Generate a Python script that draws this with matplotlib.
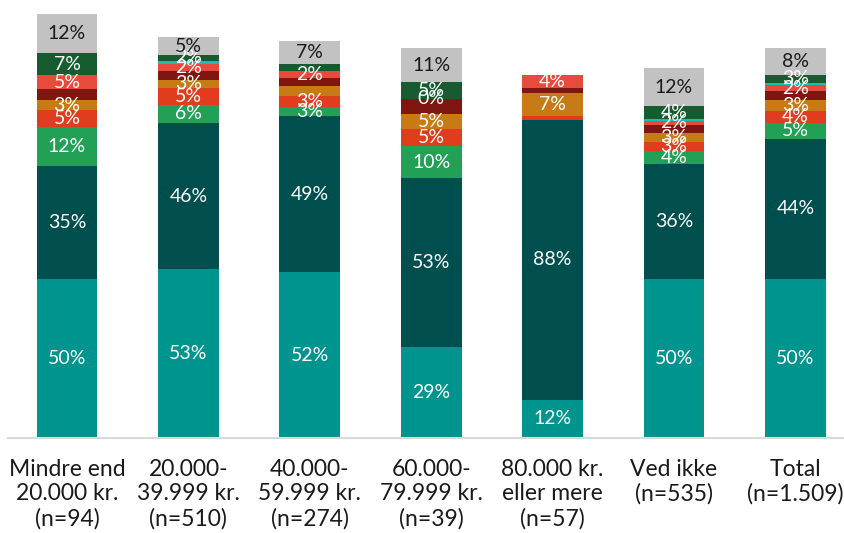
import matplotlib
matplotlib.use("Agg")
import matplotlib.pyplot as plt
import numpy as np

plt.rcParams['font.family'] = ['Lato', 'DejaVu Sans']

categories = ["Mindre end\n20.000 kr.\n(n=94)", "20.000-\n39.999 kr.\n(n=510)",
              "40.000-\n59.999 kr.\n(n=274)", "60.000-\n79.999 kr.\n(n=39)",
              "80.000 kr.\neller mere\n(n=57)", "Ved ikke\n(n=535)", "Total\n(n=1.509)"]

# series from bottom to top (values in %)
s_teal      = [50.0, 53.0, 52.0, 28.6, 12.0, 50.0, 50.0]
s_darkteal  = [35.4, 46.0, 49.0, 53.0, 88.0, 36.0, 44.0]
s_green     = [12.2, 5.6, 3.0, 10.0, 0.0, 4.0, 5.0]
s_redorange = [5.4, 5.2, 3.3, 5.4, 1.2, 3.0, 3.8]
s_orange    = [3.1, 2.8, 3.2, 4.8, 7.2, 2.9, 3.3]
s_darkred   = [3.4, 2.8, 2.6, 4.6, 1.6, 2.3, 2.9]
s_red       = [4.6, 2.2, 2.3, 0.2, 3.9, 1.5, 1.8]
s_cyan      = [0.0, 0.9, 0.0, 0.0, 0.0, 0.6, 0.7]
s_darkgreen = [6.7, 1.9, 2.1, 5.2, 0.0, 3.9, 2.6]
s_gray      = [12.4, 5.4, 7.3, 10.6, 0.0, 12.0, 8.4]

series = [s_teal, s_darkteal, s_green, s_redorange, s_orange,
          s_darkred, s_red, s_cyan, s_darkgreen, s_gray]
colors = ["#00948F", "#004F4F", "#22A055", "#E03C1E", "#C87A14",
          "#7E1711", "#E84B3C", "#1ABCB8", "#165C30", "#C2C2C2"]
label_colors = ["white"] * 9 + ["#1a1a1a"]
show_labels = [True, True, True, True, True, False, True, False, True, True]
hidden = {(3, 4), (8, 2), (4, 2)}  # (series index, bar index)

fig = plt.figure(figsize=(8.45, 5.33), dpi=100)
ax = fig.add_axes([8 / 845, 95 / 533, 837 / 845, 433 / 533])
x = np.arange(len(categories))
bottom = np.zeros(len(categories))
for si, (vals, c) in enumerate(zip(series, colors)):
    vals = np.array(vals)
    ax.bar(x, vals, bottom=bottom, width=0.5, color=c, edgecolor='none', zorder=2)
    if show_labels[si]:
        for bi, v in enumerate(vals):
            if (si, bi) in hidden:
                continue
            if v > 0:
                ax.text(x[bi], bottom[bi] + v / 2, f"{int(np.floor(v + 0.5))}%",
                        ha='center', va='center', color=label_colors[si],
                        fontsize=14, zorder=3)
    bottom += vals

ax.set_xlim(-0.486, 6.409)
ax.set_ylim(0, 136.0)
for sp in ['top', 'right', 'left']:
    ax.spines[sp].set_visible(False)
ax.spines['bottom'].set_color('#D9D9D9')
ax.spines['bottom'].set_linewidth(1.5)
ax.set_yticks([])
ax.set_xticks(x)
ax.set_xticklabels(categories, fontsize=16.5, color='#1a1a1a', va='top',
                   linespacing=1.2)
ax.tick_params(axis='x', length=0, pad=15)

fig.savefig("out.png", dpi=100)
